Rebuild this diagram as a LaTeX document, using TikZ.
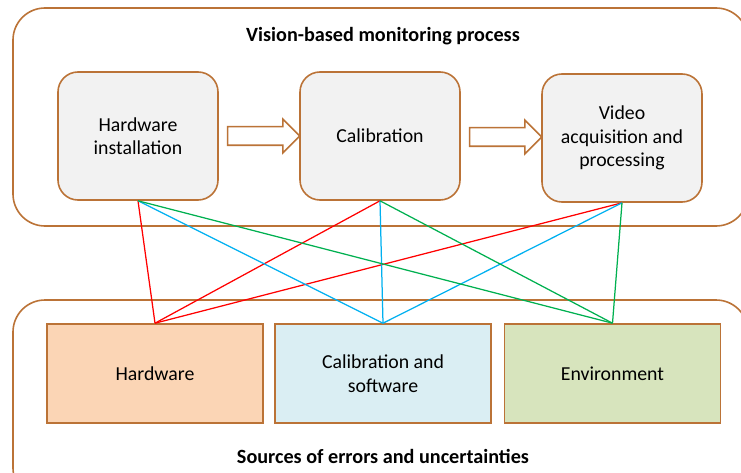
\documentclass[tikz,border=0pt]{standalone}
\usepackage{fontspec}
\setmainfont{Carlito}
\usetikzlibrary{shapes.arrows}

\definecolor{brownline}{RGB}{187,115,55}
\definecolor{stepfill}{RGB}{242,242,242}
\definecolor{hwfill}{RGB}{251,213,181}
\definecolor{swfill}{RGB}{218,238,243}
\definecolor{envfill}{RGB}{215,228,189}
\definecolor{hwred}{RGB}{255,0,0}
\definecolor{swblue}{RGB}{0,176,240}
\definecolor{envgreen}{RGB}{0,176,80}

\begin{document}
\begin{tikzpicture}[x=1pt,y=-1pt,
    font=\fontsize{19.8}{23.5}\selectfont,
    group/.style={draw=brownline,line width=1.6pt,rounded corners=32pt},
    stepbox/.style={draw=brownline,line width=1.6pt,fill=stepfill,rounded corners=20pt,
      minimum width=160pt,minimum height=128pt,align=center},
    srcbox/.style={draw=brownline,line width=1.6pt,minimum width=216pt,minimum height=99pt,align=center},
    flow/.style={single arrow,draw=brownline,line width=1.6pt,fill=white,inner sep=8.5pt,
      single arrow head extend=7.5pt,minimum height=72pt},
    title/.style={font=\fontsize{20.2}{24}\selectfont\bfseries},
    link/.style={line width=1.25pt}]
  \useasboundingbox (0,0) rectangle (741,473);
  % the two groups, both running past the right edge
  \draw[group] (13,8) rectangle (748,226);
  \draw[group] (13,300) rectangle (748,500);
  \node[title] (proc) at (383,36) {Vision-based monitoring process};
  \node[title] (srcs) at (383,456) {Sources of errors and uncertainties};
  % process steps
  \node[stepbox] (inst) at (138,136) {Hardware\\installation};
  \node[stepbox] (cal) at (380,136) {Calibration};
  \node[stepbox] (vid) at (622,138) {Video\\acquisition and\\processing};
  \node[flow] (a1) at (259,136) {};
  \node[flow] (a2) at (501,137) {};
  % error sources
  \node[srcbox,fill=hwfill] (hw) at (155,373.5) {Hardware};
  \node[srcbox,fill=swfill] (sw) at (383,373.5) {Calibration and\\software};
  \node[srcbox,fill=envfill] (env) at (612.5,373.5) {Environment};
  % every source touches every step
  \foreach \s/\c in {hw/hwred,sw/swblue,env/envgreen}
    \foreach \t in {inst,cal,vid}
      \draw[link,\c] (\s.north) -- (\t.south);
\end{tikzpicture}
\end{document}
